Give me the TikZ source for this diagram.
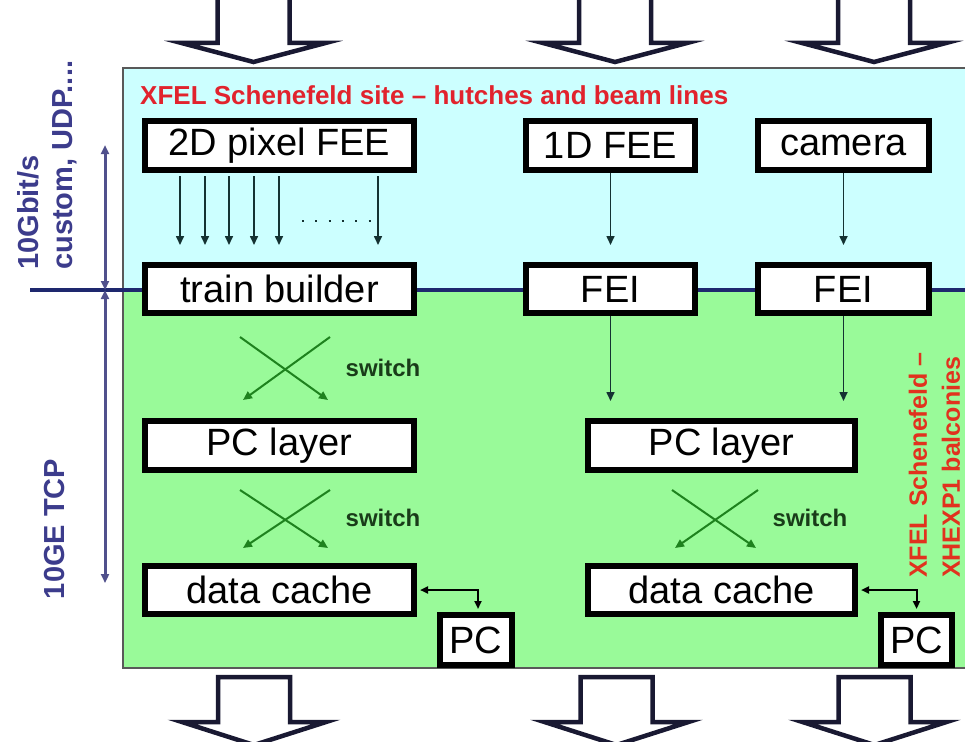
\documentclass[tikz,border=0pt]{standalone}
\usepackage{fontspec}
\setmainfont{Liberation Sans}
\usetikzlibrary{arrows.meta,calc}
\definecolor{panelcyan}{RGB}{204,255,255}
\definecolor{panelgreen}{RGB}{153,250,153}
\definecolor{navyline}{RGB}{30,40,110}
\definecolor{bluetxt}{RGB}{60,60,140}
\definecolor{vline}{RGB}{80,80,140}
\definecolor{redtxt}{RGB}{225,35,45}
\definecolor{orangered}{RGB}{225,50,30}
\definecolor{swgreen}{RGB}{30,130,30}
\definecolor{swtxt}{RGB}{25,60,25}
\definecolor{arrdark}{RGB}{20,50,50}
\definecolor{bigarr}{RGB}{25,25,50}
\begin{document}
\begin{tikzpicture}[x=1pt,y=-1pt,
  box/.style={draw=black, line width=6pt, fill=white, inner sep=0pt, minimum height=49pt, font=\fontsize{38}{40}\selectfont},
  feearr/.style={draw=arrdark, line width=1.6pt, -{Triangle[length=9pt,width=8pt]}},
  swarr/.style={draw=swgreen, line width=2pt, -{Triangle[length=9pt,width=8pt]}},
  pcarr/.style={draw=black, line width=2pt, {Triangle[length=8pt,width=7pt]}-{Triangle[length=8pt,width=7pt]}},
  varr/.style={draw=vline, line width=3pt, {Triangle[length=9pt,width=8pt]}-{Triangle[length=9pt,width=8pt]}},
  hollow/.style={draw=bigarr, line width=4.5pt, fill=white, line join=miter},
  swlabel/.style={text=swtxt, font=\bfseries\fontsize{24}{26}\selectfont, inner sep=0pt},
  sidelabel/.style={text=bluetxt, font=\bfseries\fontsize{29}{31}\selectfont, inner sep=0pt, rotate=90},
  redlabel/.style={text=orangered, font=\bfseries\fontsize{25}{27}\selectfont, inner sep=0pt, rotate=90}
]
\useasboundingbox (0,0) rectangle (965,741);
% panel
\fill[panelcyan] (123,68) rectangle (968,290);
\fill[panelgreen] (123,290) rectangle (968,668);
\draw[draw=black!65, line width=2pt] (968,68) -- (123,68) -- (123,668) -- (968,668);
% horizontal line
\coordinate (hl) at (30,290);
\coordinate (hr) at (968,290);
\draw[navyline, line width=4pt] (hl) -- (hr);
% vertical double arrows
\coordinate (vtop) at (105,145);
\coordinate (vmid) at (105,290);
\coordinate (vbot) at (105,583);
\draw[varr] (vtop) -- (vmid);
\draw[varr] (vmid) -- (vbot);
% side labels
\node[sidelabel, anchor=west] (lab1) at (28,270) {10Gbit/s};
\node[sidelabel, anchor=west] (lab2) at (65,270) {custom, UDP....};
\node[sidelabel] (lab3) at (55,529) {10GE TCP};
% title
\node[anchor=west, inner sep=0pt, text=redtxt, font=\bfseries\fontsize{26}{28}\selectfont] (title) at (140,95) {XFEL Schenefeld site – hutches and beam lines};
\node[redlabel, anchor=west] (r1) at (918,578) {XFEL Schenefeld –};
\node[redlabel, anchor=west] (r2) at (951,578) {XHEXP1 balconies};
% big hollow arrows
\foreach \cx in {253.5,615,874}{
  \draw[hollow] (\cx-36,-10) -- (\cx-36,43) -- (\cx-72,43) -- (\cx,62) -- (\cx+72,43) -- (\cx+36,43) -- (\cx+36,-10);
}
\foreach \cx in {254,616.5,874.5}{
  \draw[hollow] (\cx-36,677) -- (\cx-36,722) -- (\cx-72,722) -- (\cx,745) -- (\cx+72,722) -- (\cx+36,722) -- (\cx+36,677) -- cycle;
}
% boxes
\node[box, minimum width=269pt] (fee2d) at (279.5,145.5) {2D pixel FEE};
\node[box, minimum width=169pt] (fee1d) at (610.5,145.5) {1D FEE};
\node[box, minimum width=171pt] (cam) at (843.5,145.5) {camera};
\node[box, minimum width=269pt, minimum height=48pt] (tb) at (279.5,289) {train builder};
\node[box, minimum width=169pt, minimum height=48pt] (fei1) at (610.5,289) {FEI};
\node[box, minimum width=171pt, minimum height=48pt] (fei2) at (843.5,289) {FEI};
\node[box, minimum width=269pt] (pcl1) at (279.5,445.5) {PC layer};
\node[box, minimum width=267pt] (pcl2) at (721.5,445.5) {PC layer};
\node[box, minimum width=269pt, minimum height=48pt] (dc1) at (279.5,590) {data cache};
\node[box, minimum width=267pt, minimum height=48pt] (dc2) at (721.5,590) {data cache};
\node[box, minimum width=72pt, minimum height=50pt] (pc1) at (476,640) {PC};
\node[box, minimum width=71pt, minimum height=50pt] (pc2) at (916.5,640) {PC};
% FEE arrows
\foreach \dx in {38,63,87,112,137,236}{
  \draw[feearr] ($(fee2d.south west)+(\dx,3)$) -- ($(tb.north west)+(\dx,-17)$);
}
\draw[arrdark, line width=2.2pt, dash pattern=on 2pt off 11.3pt] (302,221) -- (372,221);
\draw[feearr] (fee1d.south) -- ($(fei1.north)+(0,-17)$);
\draw[feearr] (cam.south) -- ($(fei2.north)+(0,-17)$);
\draw[feearr] (fei1.south) -- ($(fei1.south |- pcl2.north)+(0,-17)$);
\draw[feearr] (fei2.south) -- ($(fei2.south |- pcl2.north)+(0,-17)$);
% switches
\coordinate (a1) at (240,337); \coordinate (b1) at (330,337);
\coordinate (c1) at (243,400); \coordinate (d1) at (328,400);
\draw[swarr] (a1) -- (d1); \draw[swarr] (b1) -- (c1);
\node[swlabel] (sw1) at (383,368) {switch};
\coordinate (a2) at (240,490); \coordinate (b2) at (330,490);
\coordinate (c2) at (243,548); \coordinate (d2) at (328,548);
\draw[swarr] (a2) -- (d2); \draw[swarr] (b2) -- (c2);
\node[swlabel] (sw2) at (383,518) {switch};
\coordinate (a3) at (672,490); \coordinate (b3) at (758,490);
\coordinate (c3) at (675,548); \coordinate (d3) at (756,548);
\draw[swarr] (a3) -- (d3); \draw[swarr] (b3) -- (c3);
\node[swlabel] (sw3) at (810,518) {switch};
% data cache <-> PC
\draw[pcarr] ($(dc1.east)+(3,0)$) -| ($(pc1.north)+(2,-3)$);
\draw[pcarr] ($(dc2.east)+(3,0)$) -| ($(pc2.north)+(0,-3)$);
\end{tikzpicture}
\end{document}
